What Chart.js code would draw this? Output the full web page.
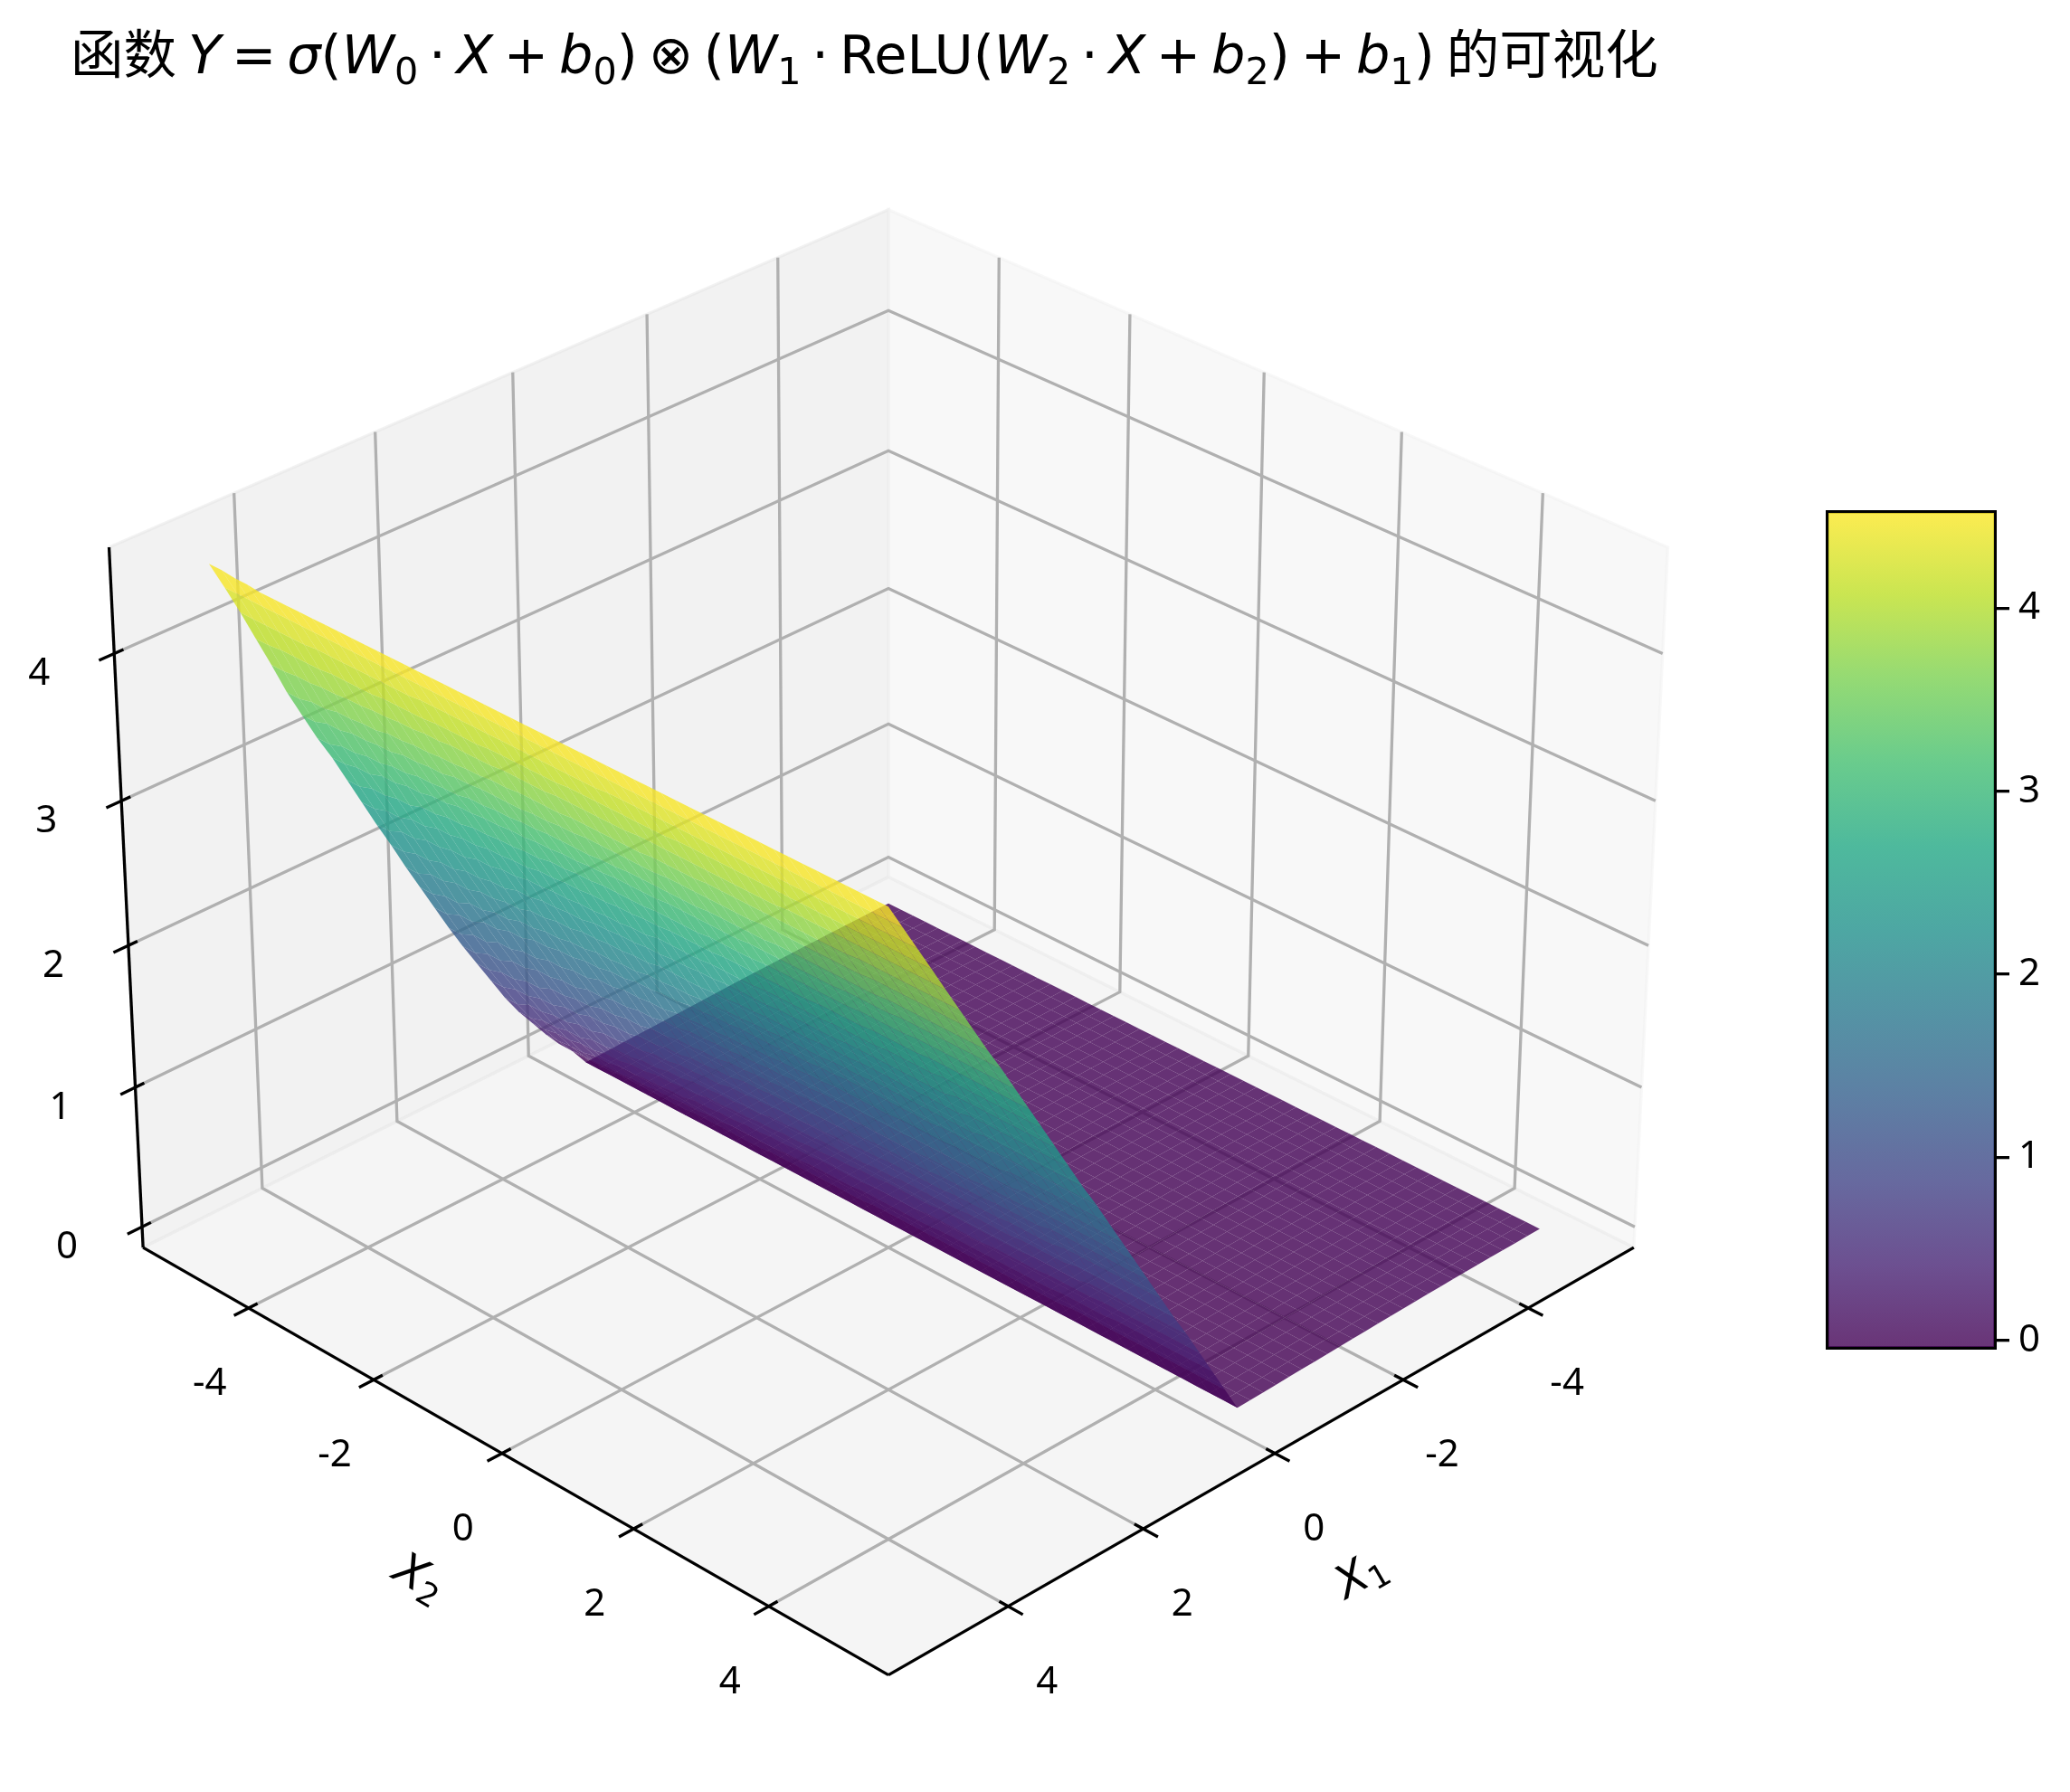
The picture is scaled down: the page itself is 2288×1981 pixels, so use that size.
<!DOCTYPE html>
<html lang="zh">
<head>
    <meta charset="UTF-8">
    <title>函数可视化</title>
    <style>
        html, body { margin: 0; padding: 0; background: #fff; }
        body { position: relative; width: 2288px; height: 1981px; overflow: hidden; }
        #surfaceChart { position: absolute; left: 0; top: 0; }
        #colorbarChart { position: absolute; left: 2018px; top: 504px; }
        #title {
            position: absolute; left: 78px; top: 16px; white-space: nowrap; color: #000;
            font: 58.5px "Noto Sans CJK SC", sans-serif; line-height: 80px;
        }
        #title .m { font-family: "DejaVu Sans"; font-size: 59px; }
        #title i { font-family: "DejaVu Sans"; font-style: oblique; }
        #title sub { font-size: 70%; line-height: 0; vertical-align: -0.28em; }
        #title .op { margin: 0 0.2em; }
    </style>
</head>
<body>
    <canvas id="surfaceChart" width="2288" height="1981"></canvas>
    <canvas id="colorbarChart" width="270" height="1048"></canvas>
    <div id="title">函数 <span class="m"><i>Y</i><span class="op">=</span><i>σ</i>(<i>W</i><sub>0</sub><span class="op">·</span><i>X</i><span class="op">+</span><i>b</i><sub>0</sub>)<span class="op">⊗</span>(<i>W</i><sub>1</sub><span class="op">·</span>ReLU(<i>W</i><sub>2</sub><span class="op">·</span><i>X</i><span class="op">+</span><i>b</i><sub>2</sub>)<span class="op">+</span><i>b</i><sub>1</sub>)</span> 的可视化</div>

    <script src="https://cdn.jsdelivr.net/npm/chart.js@4"></script>
    <script>
        // axis ticks
        const x1Ticks = [-4, -2, 0, 2, 4];
        const x2Ticks = [-4, -2, 0, 2, 4];
        const zTicks = [0, 1, 2, 3, 4];
        const colorbarTicks = [0, 1, 2, 3, 4];

        // limits of the axes box
        const x1Lim = [-5.729, 5.729];
        const x2Lim = [-5.729, 5.729];
        const zLim = [-0.15, 4.71];
        const colorRange = [-0.05, 4.535];

        // surface mesh
        const x1Grid = [-5, -4.8, -4.6, -4.4, -4.2, -4, -3.8, -3.6, -3.4, -3.2, -3, -2.8, -2.6, -2.4, -2.2, -2, -1.8, -1.6, -1.4, -1.2, -1, -0.8, -0.6, -0.4, -0.2,
            0, 0.2, 0.4, 0.6, 0.8, 1, 1.2, 1.4, 1.6, 1.8, 2, 2.2, 2.4, 2.6, 2.8, 3, 3.2, 3.4, 3.6, 3.8, 4, 4.2, 4.4, 4.6, 4.8, 5];
        const x2Grid = [-5, -4.8, -4.6, -4.4, -4.2, -4, -3.8, -3.6, -3.4, -3.2, -3, -2.8, -2.6, -2.4, -2.2, -2, -1.8, -1.6, -1.4, -1.2, -1, -0.8, -0.6, -0.4, -0.2,
            0, 0.2, 0.4, 0.6, 0.8, 1, 1.2, 1.4, 1.6, 1.8, 2, 2.2, 2.4, 2.6, 2.8, 3, 3.2, 3.4, 3.6, 3.8, 4, 4.2, 4.4, 4.6, 4.8, 5];

        // height of the flat part, X1 = -5 ... -0.2
        const zFlat = [-0.015, -0.016, -0.017, -0.018, -0.019, -0.02, -0.022, -0.024, -0.026, -0.028, -0.03, -0.032, -0.035,
            -0.038, -0.041, -0.044, -0.047, -0.05, -0.053, -0.056, -0.059, -0.062, -0.065, -0.068, -0.07];
        // heights along X1 = 0, 0.2 ... 5, one row per stretch of X2 (from X2 = -5 upward)
        const zRows = [
            [0.06, 0.16, 0.28, 0.41, 0.54, 0.69, 0.86, 1.03, 1.20, 1.38, 1.57, 1.76, 1.95, 2.15, 2.34, 2.54, 2.74, 2.94, 3.12, 3.32, 3.52, 3.75, 3.97, 4.19, 4.40, 4.60],
            [0.06, 0.17, 0.29, 0.43, 0.57, 0.73, 0.89, 1.06, 1.24, 1.42, 1.61, 1.79, 1.99, 2.18, 2.38, 2.57, 2.77, 2.96, 3.15, 3.35, 3.54, 3.76, 3.98, 4.19, 4.40, 4.59],
            [0.07, 0.18, 0.31, 0.45, 0.59, 0.75, 0.92, 1.09, 1.28, 1.46, 1.65, 1.83, 2.02, 2.21, 2.41, 2.60, 2.79, 2.99, 3.17, 3.37, 3.56, 3.77, 3.98, 4.19, 4.40, 4.58],
            [0.07, 0.19, 0.33, 0.47, 0.62, 0.78, 0.95, 1.13, 1.31, 1.49, 1.68, 1.86, 2.05, 2.24, 2.43, 2.63, 2.82, 3.01, 3.19, 3.38, 3.57, 3.78, 3.99, 4.20, 4.40, 4.58],
            [0.07, 0.20, 0.34, 0.49, 0.64, 0.81, 0.98, 1.15, 1.33, 1.52, 1.71, 1.89, 2.07, 2.26, 2.46, 2.65, 2.84, 3.03, 3.21, 3.40, 3.59, 3.79, 3.99, 4.20, 4.40, 4.58],
            [0.08, 0.21, 0.35, 0.51, 0.66, 0.83, 1.00, 1.18, 1.36, 1.54, 1.73, 1.91, 2.10, 2.29, 2.48, 2.67, 2.86, 3.05, 3.22, 3.41, 3.60, 3.80, 4.00, 4.20, 4.40, 4.58],
            [0.08, 0.22, 0.37, 0.52, 0.68, 0.85, 1.02, 1.20, 1.38, 1.57, 1.75, 1.93, 2.12, 2.31, 2.50, 2.68, 2.87, 3.06, 3.24, 3.43, 3.61, 3.81, 4.00, 4.20, 4.40, 4.58],
            [0.08, 0.23, 0.38, 0.54, 0.70, 0.87, 1.04, 1.22, 1.40, 1.59, 1.77, 1.95, 2.14, 2.32, 2.51, 2.70, 2.88, 3.07, 3.25, 3.44, 3.62, 3.82, 4.01, 4.21, 4.40, 4.58],
            [0.09, 0.23, 0.39, 0.55, 0.71, 0.88, 1.06, 1.24, 1.42, 1.60, 1.79, 1.96, 2.15, 2.34, 2.52, 2.71, 2.90, 3.08, 3.26, 3.44, 3.63, 3.82, 4.01, 4.21, 4.40, 4.58],
            [0.09, 0.24, 0.40, 0.56, 0.72, 0.90, 1.07, 1.25, 1.44, 1.62, 1.80, 1.98, 2.16, 2.35, 2.53, 2.72, 2.91, 3.09, 3.27, 3.45, 3.64, 3.83, 4.02, 4.21, 4.40, 4.58],
            [0.09, 0.25, 0.41, 0.57, 0.74, 0.91, 1.09, 1.27, 1.45, 1.63, 1.82, 1.99, 2.18, 2.36, 2.54, 2.73, 2.92, 3.10, 3.27, 3.46, 3.64, 3.83, 4.02, 4.21, 4.40, 4.58],
            [0.09, 0.25, 0.42, 0.58, 0.75, 0.92, 1.10, 1.28, 1.46, 1.64, 1.83, 2.00, 2.18, 2.37, 2.56, 2.74, 2.92, 3.11, 3.28, 3.47, 3.65, 3.84, 4.02, 4.21, 4.40, 4.58],
            [0.10, 0.26, 0.42, 0.59, 0.76, 0.93, 1.11, 1.29, 1.47, 1.65, 1.84, 2.01, 2.19, 2.38, 2.56, 2.75, 2.93, 3.11, 3.29, 3.47, 3.65, 3.84, 4.03, 4.21, 4.40, 4.58],
            [0.10, 0.26, 0.43, 0.60, 0.76, 0.94, 1.12, 1.30, 1.48, 1.66, 1.84, 2.02, 2.20, 2.39, 2.57, 2.75, 2.93, 3.12, 3.29, 3.47, 3.65, 3.84, 4.03, 4.21, 4.40, 4.58],
            [0.10, 0.26, 0.43, 0.61, 0.77, 0.95, 1.13, 1.31, 1.49, 1.67, 1.85, 2.03, 2.21, 2.39, 2.57, 2.76, 2.94, 3.12, 3.29, 3.48, 3.66, 3.85, 4.03, 4.22, 4.40, 4.58],
            [0.10, 0.27, 0.44, 0.61, 0.78, 0.96, 1.14, 1.32, 1.50, 1.68, 1.86, 2.03, 2.21, 2.40, 2.58, 2.76, 2.94, 3.12, 3.30, 3.48, 3.66, 3.85, 4.03, 4.22, 4.40, 4.58],
            [0.10, 0.27, 0.44, 0.62, 0.78, 0.96, 1.14, 1.32, 1.50, 1.68, 1.87, 2.04, 2.22, 2.40, 2.58, 2.76, 2.95, 3.13, 3.30, 3.48, 3.67, 3.85, 4.04, 4.22, 4.40, 4.58],
            [0.10, 0.27, 0.45, 0.62, 0.79, 0.97, 1.15, 1.33, 1.51, 1.69, 1.87, 2.05, 2.23, 2.41, 2.59, 2.77, 2.95, 3.13, 3.31, 3.49, 3.67, 3.85, 4.04, 4.22, 4.40, 4.58],
            [0.11, 0.28, 0.46, 0.63, 0.80, 0.98, 1.16, 1.34, 1.52, 1.70, 1.88, 2.05, 2.23, 2.41, 2.60, 2.78, 2.96, 3.14, 3.31, 3.49, 3.67, 3.86, 4.04, 4.22, 4.40, 4.58],
            [0.11, 0.29, 0.47, 0.65, 0.82, 1.00, 1.18, 1.36, 1.54, 1.72, 1.90, 2.07, 2.25, 2.43, 2.61, 2.79, 2.97, 3.15, 3.32, 3.50, 3.68, 3.86, 4.04, 4.22, 4.40, 4.58]
        ];
        // which row of zRows each line of x2Grid uses
        const x2Row = [0, 0, 1, 1, 2, 2, 3, 3, 4, 4, 5, 5, 6, 6, 7, 7, 8, 8, 9, 9, 10, 10, 11, 11, 12, 12, 13, 13, 14, 14, 15, 15,
            16, 16, 16, 17, 17, 17, 17, 18, 18, 18, 18, 19, 19, 19, 19, 19, 19, 19, 19];

        const viridis = [[68, 1, 84], [72, 36, 117], [65, 68, 135], [53, 95, 141], [42, 120, 142], [33, 145, 140],
            [34, 168, 132], [68, 191, 112], [122, 209, 81], [189, 223, 38], [253, 231, 37]];

        const LINE_W = 3.3;
        const GRID_COLOR = '#b0b0b0';
        const TICK_FONT = '42px "Noto Sans", sans-serif';

        function viridisColor(t, alpha) {
            t = Math.min(1, Math.max(0, t)) * (viridis.length - 1);
            const i = Math.min(viridis.length - 2, Math.floor(t));
            const f = t - i;
            const c = viridis[i].map((v, k) => Math.round(v + (viridis[i + 1][k] - v) * f));
            return `rgba(${c[0]},${c[1]},${c[2]},${alpha})`;
        }

        function zAt(i, j) {
            if (x1Grid[i] < 0) return zFlat[i];
            return zRows[x2Row[j]][i - x1Grid.indexOf(0)];
        }

        // camera of elev 30 / azim 45, box aspect 4:4:3, distance 10
        const BOX = [1.1905, 1.1905, 0.8929];
        const DIR_U = [-Math.SQRT1_2, Math.SQRT1_2, 0];
        const DIR_V = [-0.35355, -0.35355, 0.86603];
        const DIR_W = [0.61237, 0.61237, 0.5];
        const dot = (a, b) => a[0] * b[0] + a[1] * b[1] + a[2] * b[2];

        function project(x1, x2, z) {
            const q = [
                ((x1 - x1Lim[0]) / (x1Lim[1] - x1Lim[0]) - 0.5) * BOX[0],
                ((x2 - x2Lim[0]) / (x2Lim[1] - x2Lim[0]) - 0.5) * BOX[1],
                ((z - zLim[0]) / (zLim[1] - zLim[0]) - 0.5) * BOX[2]
            ];
            const d = 10 - dot(q, DIR_W);
            return { x: dot(q, DIR_U) / d, y: dot(q, DIR_V) / d, d };
        }

        function shape(corners, background, border, width) {
            return {
                data: corners.map(c => { const p = project(c[0], c[1], c[2]); return { x: p.x, y: p.y }; }),
                showLine: true,
                fill: background ? 'shape' : false,
                backgroundColor: background || 'transparent',
                borderColor: border || 'transparent',
                borderWidth: width || 0,
                pointRadius: 0,
                borderCapStyle: 'butt',
                tension: 0
            };
        }

        const [xa, xb] = x1Lim, [ya, yb] = x2Lim, [za, zb] = zLim;
        const paint = [];

        // panes
        const paneY = 'rgba(230,230,230,0.5)', paneX = 'rgba(242,242,242,0.5)', paneZ = 'rgba(236,236,236,0.5)';
        paint.push(shape([[xb, ya, za], [xa, ya, za], [xa, ya, zb], [xb, ya, zb], [xb, ya, za]], paneY, paneY, LINE_W));
        paint.push(shape([[xa, ya, za], [xa, yb, za], [xa, yb, zb], [xa, ya, zb], [xa, ya, za]], paneX, paneX, LINE_W));
        paint.push(shape([[xa, ya, za], [xb, ya, za], [xb, yb, za], [xa, yb, za], [xa, ya, za]], paneZ, paneZ, LINE_W));

        // grid
        x1Ticks.forEach(t => paint.push(shape([[t, yb, za], [t, ya, za], [t, ya, zb]], null, GRID_COLOR, LINE_W)));
        x2Ticks.forEach(t => paint.push(shape([[xb, t, za], [xa, t, za], [xa, t, zb]], null, GRID_COLOR, LINE_W)));
        zTicks.forEach(t => paint.push(shape([[xb, ya, t], [xa, ya, t], [xa, yb, t]], null, GRID_COLOR, LINE_W)));

        // axis lines and tick marks
        paint.push(shape([[xa, yb, za], [xb, yb, za]], null, '#000', LINE_W));
        paint.push(shape([[xb, ya, za], [xb, yb, za]], null, '#000', LINE_W));
        paint.push(shape([[xb, ya, za], [xb, ya, zb]], null, '#000', LINE_W));
        x1Ticks.forEach(t => paint.push(shape([[t, yb - 0.127, za], [t, yb + 0.21, za]], null, '#000', LINE_W)));
        x2Ticks.forEach(t => paint.push(shape([[xb - 0.127, t, za], [xb + 0.21, t, za]], null, '#000', LINE_W)));
        zTicks.forEach(t => paint.push(shape([[xb - 0.127, ya, t], [xb + 0.21, ya, t]], null, '#000', LINE_W)));

        // surface facets, far ones first
        const facets = [];
        for (let i = 0; i < x1Grid.length - 1; i++) {
            for (let j = 0; j < x2Grid.length - 1; j++) {
                const c = [[i, j], [i + 1, j], [i + 1, j + 1], [i, j + 1]].map(([a, b]) => [x1Grid[a], x2Grid[b], zAt(a, b)]);
                const mean = (c[0][2] + c[1][2] + c[2][2] + c[3][2]) / 4;
                const depth = c.reduce((s, p) => s + project(p[0], p[1], p[2]).d, 0) / 4;
                facets.push({ c, mean, depth });
            }
        }
        facets.sort((a, b) => b.depth - a.depth);
        facets.forEach(f => {
            const t = (f.mean - colorRange[0]) / (colorRange[1] - colorRange[0]);
            paint.push(shape([...f.c, f.c[0]], viridisColor(t, 0.8)));
        });

        // tick labels and axis labels
        const textPlugin = {
            id: 'axisText',
            afterDraw(chart) {
                const { ctx, scales } = chart;
                const place = (x1, x2, z) => {
                    const p = project(x1, x2, z);
                    return [scales.x.getPixelForValue(p.x), scales.y.getPixelForValue(p.y)];
                };
                ctx.save();
                ctx.fillStyle = '#000';
                ctx.font = TICK_FONT;
                ctx.textAlign = 'center';
                ctx.textBaseline = 'middle';
                x1Ticks.forEach(t => {
                    const [px, py] = place(t, yb, za);
                    ctx.fillText(String(t), px + 43, py + 84);
                });
                x2Ticks.forEach(t => {
                    const [px, py] = place(xb, t, za);
                    ctx.fillText(String(t), px - 43, py + 84);
                });
                zTicks.forEach(t => {
                    const [px, py] = place(xb, ya, t);
                    ctx.fillText(String(t), px - 83, py + 23);
                });
                axisLabel(ctx, '1', 1499, 1741, -Math.PI / 6);
                axisLabel(ctx, '2', 461, 1740, Math.PI / 6);
                ctx.restore();
            }
        };

        function axisLabel(ctx, sub, cx, cy, angle) {
            ctx.save();
            ctx.translate(cx, cy);
            ctx.rotate(angle);
            ctx.textAlign = 'left';
            ctx.textBaseline = 'alphabetic';
            ctx.font = 'oblique 50px "DejaVu Sans"';
            const w = ctx.measureText('X').width;
            ctx.fillText('X', -w * 0.7, 18);
            ctx.font = '35px "DejaVu Sans"';
            ctx.fillText(sub, w * 0.3, 26);
            ctx.restore();
        }

        Chart.defaults.animation = false;

        // reversed because the first dataset is drawn last
        new Chart(document.getElementById('surfaceChart'), {
            type: 'scatter',
            data: { datasets: paint.slice().reverse() },
            options: {
                responsive: false,
                events: [],
                parsing: false,
                normalized: true,
                layout: { padding: 0 },
                scales: {
                    x: { type: 'linear', display: false, min: -982 / 10005, max: (2288 - 982) / 10005 },
                    y: { type: 'linear', display: false, min: (1000.7 - 1981) / 10005, max: 1000.7 / 10005 }
                },
                plugins: { legend: { display: false }, tooltip: { enabled: false } }
            },
            plugins: [textPlugin]
        });

        new Chart(document.getElementById('colorbarChart'), {
            type: 'bar',
            data: {
                labels: [''],
                datasets: [{
                    data: [colorRange],
                    barPercentage: 1,
                    categoryPercentage: 1,
                    borderColor: '#000',
                    borderWidth: 3.3,
                    borderSkipped: false,
                    backgroundColor(ctx) {
                        const { chart } = ctx;
                        if (!chart.chartArea) return 'transparent';
                        const y = chart.scales.y;
                        const g = chart.ctx.createLinearGradient(0, y.getPixelForValue(colorRange[0]), 0, y.getPixelForValue(colorRange[1]));
                        viridis.forEach((c, i) => g.addColorStop(i / (viridis.length - 1), viridisColor(i / (viridis.length - 1), 0.8)));
                        return g;
                    }
                }]
            },
            options: {
                responsive: false,
                events: [],
                layout: { padding: { top: 60, bottom: 60, left: 0, right: 0 } },
                scales: {
                    x: { display: false },
                    y: {
                        position: 'right',
                        min: colorRange[0],
                        max: colorRange[1],
                        afterBuildTicks(axis) { axis.ticks = colorbarTicks.map(value => ({ value })); },
                        afterFit(axis) { axis.width = 81; },
                        border: { display: false },
                        grid: { drawOnChartArea: false, tickLength: 14, color: '#000', lineWidth: LINE_W },
                        ticks: { color: '#000', font: { family: '"Noto Sans", sans-serif', size: 42 }, padding: 10 }
                    }
                },
                plugins: { legend: { display: false }, tooltip: { enabled: false } }
            }
        });
    </script>
</body>
</html>
